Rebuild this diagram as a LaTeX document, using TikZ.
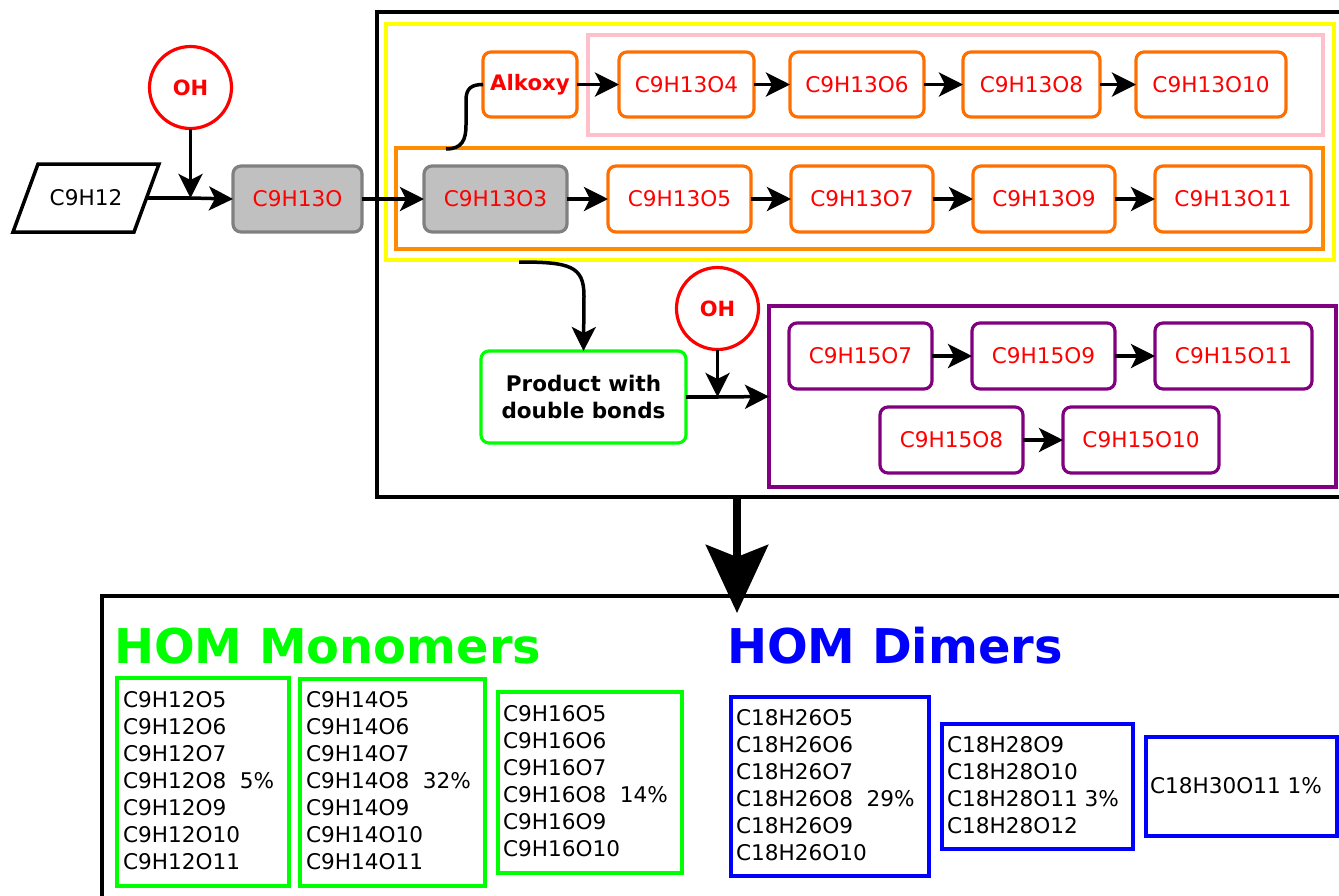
\documentclass[tikz,border=0pt]{standalone}
\usepackage{fontspec}
\setmainfont{DejaVu Sans}
\usetikzlibrary{arrows.meta}
\definecolor{myred}{RGB}{255,0,0}
\definecolor{boxorange}{RGB}{255,110,0}
\definecolor{frameorange}{RGB}{255,140,0}
\definecolor{mypink}{RGB}{255,192,203}
\definecolor{mypurple}{RGB}{128,0,128}
\definecolor{mygreen}{RGB}{0,255,0}
\definecolor{myblue}{RGB}{0,0,255}
\definecolor{myyellow}{RGB}{255,255,0}
\definecolor{boxgray}{RGB}{192,192,192}
\definecolor{bordergray}{RGB}{128,128,128}
\begin{document}
\begin{tikzpicture}[x=1pt,y=-1pt,
  every node/.style={inner sep=0pt, outer sep=0pt},
  lbl/.style={font=\fontsize{21.6}{27}\selectfont},
  obox/.style={draw=boxorange, line width=3.2pt, rounded corners=8pt, minimum height=65pt, text=myred, lbl},
  gbox/.style={draw=bordergray, fill=boxgray, line width=3.2pt, rounded corners=8pt, minimum height=66pt, text=myred, lbl},
  pbox/.style={draw=mypurple, line width=3.2pt, rounded corners=8pt, minimum height=66pt, text=myred, lbl},
  ohc/.style={circle, draw=myred, line width=3.2pt, minimum size=82pt, text=myred, font=\bfseries\fontsize{21}{25}\selectfont},
  frm/.style={line width=3.5pt},
  lst/.style={lbl, anchor=base west},
  arr/.style={line width=3.5pt, -{Stealth[length=24pt,width=24pt,inset=6pt]}},
  bigarr/.style={line width=8pt, -{Stealth[length=68pt,width=62pt,inset=12pt]}},
]
\useasboundingbox (0,0) rectangle (1339,895);

% outer frames
\draw[frm] (1345,12) -- (377,12) -- (377,497) -- (1345,497);
\draw[frm] (1345,596) -- (102,596) -- (102,900);

% inner frames
\node[draw=myyellow, line width=3.8pt, minimum width=948, minimum height=236] (yf) at (860,142) {};
\node[draw=mypink, line width=3.2pt, minimum width=735, minimum height=100] (pkf) at (955.5,85) {};
\node[draw=frameorange, line width=3.2pt, minimum width=927, minimum height=101] (of) at (859.5,198.5) {};
\node[draw=mypurple, line width=3.2pt, minimum width=567, minimum height=181] (pf) at (1052.5,396.5) {};

% start
\draw[line width=3.5pt] (13,232) -- (38,164) -- (159,164) -- (134,232) -- cycle;
\node[lbl] (c12) at (86,198) {C9H12};
\coordinate (c12e) at (146.5,198);
\node[ohc] (oh1) at (190.5,87.5) {OH};
\coordinate (j1) at (190.5,198);

\node[gbox, minimum width=129] (c13o) at (297.5,199) {C9H13O};
\node[gbox, minimum width=143] (o3) at (495.5,199) {C9H13O3};
\node[obox, minimum width=143, minimum height=66] (o5) at (679.5,199) {C9H13O5};
\node[obox, minimum width=142, minimum height=66] (o7) at (862,199) {C9H13O7};
\node[obox, minimum width=142, minimum height=66] (o9) at (1044,199) {C9H13O9};
\node[obox, minimum width=156, minimum height=66] (o11) at (1233,199) {C9H13O11};

\node[obox, minimum width=94, font=\bfseries\fontsize{21.3}{25}\selectfont] (alk) at (530,84.5) {Alkoxy};
\node[obox, minimum width=135] (o4) at (686.5,84.5) {C9H13O4};
\node[obox, minimum width=134] (o6) at (857,84.5) {C9H13O6};
\node[obox, minimum width=137] (o8) at (1031.5,84.5) {C9H13O8};
\node[obox, minimum width=150] (o10) at (1211,84.5) {C9H13O10};

% second stage
\node[draw=mygreen, line width=3.2pt, rounded corners=8pt, minimum width=205, minimum height=92, align=center, font=\bfseries\fontsize{21.5}{27}\selectfont] (prod) at (583.5,397) {Product with\\double bonds};
\node[ohc] (oh2) at (717.5,308.5) {OH};
\node[pbox, minimum width=143] (p7) at (860.5,356) {C9H15O7};
\node[pbox, minimum width=143] (p9) at (1043.5,356) {C9H15O9};
\node[pbox, minimum width=157] (p11) at (1233.5,356) {C9H15O11};
\node[pbox, minimum width=143] (p8) at (951.5,440) {C9H15O8};
\node[pbox, minimum width=156] (p10) at (1141,440) {C9H15O10};

% connectors
\draw[line width=3.5pt] (c12e) -- (j1);
\draw[arr] (j1) -- (c13o.west);
\draw[arr] (oh1.south) -- (j1);
\draw[arr] (c13o.east) -- (o3.west);
\draw[arr] (o3) -- (o5);
\draw[arr] (o5) -- (o7);
\draw[arr] (o7) -- (o9);
\draw[arr] (o9) -- (o11);
\draw[arr] (alk) -- (o4);
\draw[arr] (o4) -- (o6);
\draw[arr] (o6) -- (o8);
\draw[arr] (o8) -- (o10);
\coordinate (cs1) at (446,149);
\draw[line width=3.5pt] (cs1) .. controls (462,149) and (466,140) .. (466,125) -- (466,100) .. controls (466,88) and (472,84.5) .. (alk.west);
\coordinate (cs2) at (519,262);
\draw[arr] (cs2) .. controls (570,262) and (584,266) .. (584,296) -- (prod.north);
\coordinate (j2) at (717.5,397);
\draw[line width=3.5pt] (prod.east) -- (j2);
\draw[arr] (j2) -- (pf.west);
\draw[arr] (oh2.south) -- (j2);
\draw[arr] (p7) -- (p9);
\draw[arr] (p9) -- (p11);
\draw[arr] (p8) -- (p10);

\coordinate (bt) at (737,497);
\coordinate (bb) at (737,613);
\draw[bigarr] (bt) -- (bb);

% results
\node[anchor=base west, text=mygreen, font=\bfseries\fontsize{47.9}{50}\selectfont] (monot) at (114,663) {HOM Monomers};
\node[anchor=base west, text=myblue, font=\bfseries\fontsize{47.9}{50}\selectfont] (dimt) at (727,663) {HOM Dimers};

\node[draw=mygreen, line width=3.2pt, minimum width=172, minimum height=208, anchor=north west] (mb1) at (117,678) {};
\node[draw=mygreen, line width=3.2pt, minimum width=185, minimum height=207, anchor=north west] (mb2) at (300,679) {};
\node[draw=mygreen, line width=3.2pt, minimum width=184, minimum height=181, anchor=north west] (mb3) at (498,692) {};
\node[draw=myblue, line width=3.2pt, minimum width=198, minimum height=179, anchor=north west] (db1) at (731,697) {};
\node[draw=myblue, line width=3.2pt, minimum width=191, minimum height=125, anchor=north west] (db2) at (942,724) {};
\node[draw=myblue, line width=3.2pt, minimum width=191, minimum height=99, anchor=north west] (db3) at (1146,737) {};

\foreach \t [count=\i from 0] in {C9H12O5,C9H12O6,C9H12O7,{C9H12O8\ \ 5\%},C9H12O9,C9H12O10,C9H12O11}
  \node[lst] (ma\i) at (123,{707+27*\i}) {\t};
\foreach \t [count=\i from 0] in {C9H14O5,C9H14O6,C9H14O7,{C9H14O8\ \ 32\%},C9H14O9,C9H14O10,C9H14O11}
  \node[lst] (mbl\i) at (306,{707+27*\i}) {\t};
\foreach \t [count=\i from 0] in {C9H16O5,C9H16O6,C9H16O7,{C9H16O8\ \ 14\%},C9H16O9,C9H16O10}
  \node[lst] (mc\i) at (503,{721+27*\i}) {\t};
\foreach \t [count=\i from 0] in {C18H26O5,C18H26O6,C18H26O7,{C18H26O8\ \ 29\%},C18H26O9,C18H26O10}
  \node[lst] (da\i) at (736,{725+27*\i}) {\t};
\foreach \t [count=\i from 0] in {C18H28O9,C18H28O10,{C18H28O11 3\%},C18H28O12}
  \node[lst] (dbl\i) at (947,{752+27*\i}) {\t};
\node[lst] (dc0) at (1150,793) {C18H30O11 1\%};
\end{tikzpicture}
\end{document}
